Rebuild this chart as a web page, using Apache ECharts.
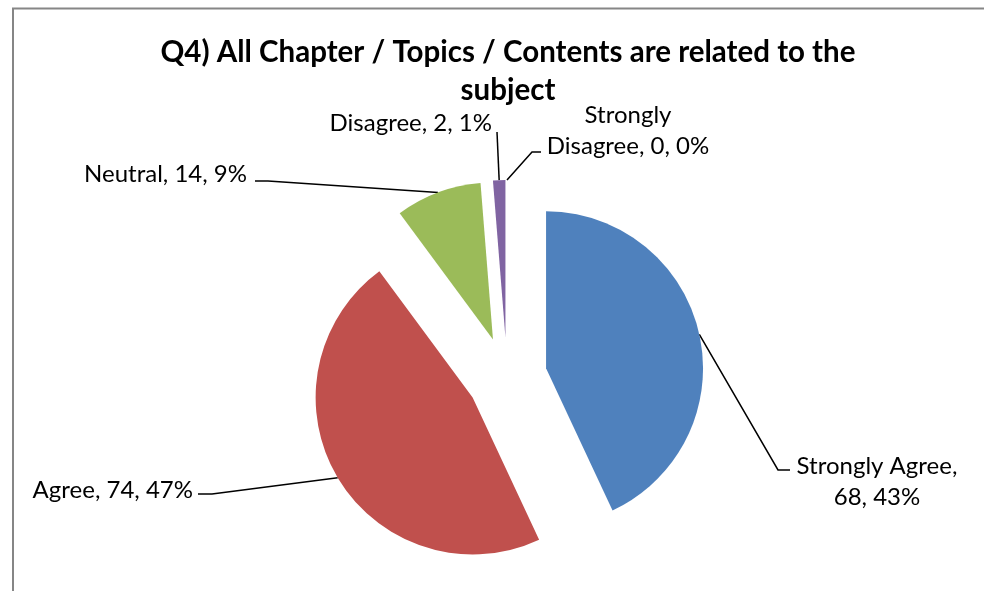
<!DOCTYPE html>
<html>
<head>
<meta charset="utf-8">
<script src="https://cdn.jsdelivr.net/npm/echarts@6/dist/echarts.min.js"></script>
<style>
html,body{margin:0;padding:0;background:#fff;}
#chart{width:984px;height:591px;}
</style>
</head>
<body>
<div id="chart"></div>
<script>
const titleText = 'Q4) All Chapter / Topics / Contents are related to the\nsubject';
const categories = ['Strongly Agree', 'Agree', 'Neutral', 'Disagree', 'Strongly Disagree'];
const values = [68, 74, 14, 2, 0];
const colors = ['#4F81BD', '#C0504D', '#9BBB59', '#8064A2', '#4BACC6'];
// how each label wraps: 'name' = break after name, 'word' = break after first word, '' = single line
const labelWrap = ['name', '', '', '', 'word'];

const FONT = 'Lato';
const CENTER = [507, 377];
const RADIUS = 157;
const EXPLODE = 40;

// label placement (annotation layout, not data)
const labelPlace = [
  {x: 877, y: 451, align: 'center', verticalAlign: 'top', line: [[778, 470], [790, 470]]},
  {x: 193, y: 490, align: 'right', verticalAlign: 'middle', line: [[212, 494], [198, 494]]},
  {x: 247, y: 174, align: 'right', verticalAlign: 'middle', line: [[268, 181], [255, 181]]},
  {x: 492, y: 123, align: 'right', verticalAlign: 'middle', line: [[497, 132]]},
  {x: 628, y: 100, align: 'center', verticalAlign: 'top', line: [[532, 152], [541, 152]]}
];

const chart = echarts.init(document.getElementById('chart'));

function fmt(p) {
  const pct = Math.round(p.percent) + '%';
  const w = labelWrap[p.dataIndex];
  if (w === 'name') return p.name + ',\n' + p.value + ', ' + pct;
  if (w === 'word') {
    const parts = p.name.split(' ');
    return parts[0] + '\n' + parts.slice(1).join(' ') + ', ' + p.value + ', ' + pct;
  }
  return p.name + ', ' + p.value + ', ' + pct;
}

const sliceData = categories.map((name, i) => ({
  name: name, value: values[i], selected: true, itemStyle: {color: colors[i]}
}));
const labelData = categories.map((name, i) => ({
  name: name, value: values[i]
}));

chart.setOption({
  animation: false,
  backgroundColor: '#ffffff',
  title: {
    text: titleText,
    left: 508,
    top: 33,
    padding: 0,
    textAlign: 'center',
    textStyle: {fontFamily: FONT, fontSize: 29.5, fontWeight: 'bold', color: '#000', lineHeight: 38}
  },
  graphic: [
    {type: 'line', shape: {x1: 13, y1: 8, x2: 13, y2: 591}, style: {stroke: '#868686', lineWidth: 2}},
    {type: 'line', shape: {x1: 12, y1: 8.5, x2: 984, y2: 8.5}, style: {stroke: '#868686', lineWidth: 2}}
  ],
  series: [{
    type: 'pie',
    center: CENTER,
    radius: RADIUS,
    startAngle: 90,
    clockwise: true,
    selectedMode: 'multiple',
    selectedOffset: EXPLODE,
    avoidLabelOverlap: false,
    emphasis: {disabled: true},
    label: {show: false},
    labelLine: {show: false},
    data: sliceData
  }, {
    type: 'pie',
    center: CENTER,
    radius: RADIUS,
    startAngle: 90,
    clockwise: true,
    silent: true,
    selectedMode: false,
    avoidLabelOverlap: false,
    emphasis: {disabled: true},
    itemStyle: {color: 'rgba(0,0,0,0)'},
    data: labelData,
    label: {
      show: true,
      position: 'outside',
      formatter: fmt,
      fontFamily: FONT,
      fontSize: 24,
      lineHeight: 31,
      color: '#000'
    },
    labelLine: {show: true, lineStyle: {color: '#000', width: 1.5}},
    labelLayout: function (params) {
      const lp = labelPlace[params.dataIndex];
      let pts = null;
      if (params.labelLinePoints) {
        const s = params.labelLinePoints[0];
        const vx = s[0] - CENTER[0], vy = s[1] - CENTER[1];
        const len = Math.sqrt(vx * vx + vy * vy) || 1;
        const start = [s[0] + vx / len * EXPLODE, s[1] + vy / len * EXPLODE];
        pts = [start].concat(lp.line);
      }
      return {
        x: lp.x,
        y: lp.y,
        align: lp.align,
        verticalAlign: lp.verticalAlign,
        labelLinePoints: pts
      };
    }
  }]
});
</script>
</body>
</html>
